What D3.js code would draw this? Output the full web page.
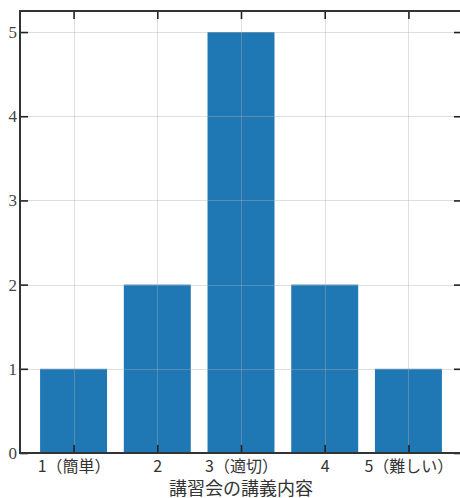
<!DOCTYPE html>
<html><head><meta charset="utf-8">
<script src="https://cdn.jsdelivr.net/npm/d3@7"></script>
<style>html,body{margin:0;padding:0;background:#fff;overflow:hidden}</style>
</head><body>
<svg id="c" width="460" height="498"></svg>
<script>
const categories = ["1（簡単）", "2", "3（適切）", "4", "5（難しい）"];
const counts = [1, 2, 5, 2, 1];
const yTicks = [0, 1, 2, 3, 4, 5];
const xLabel = "講習会の講義内容";

(function () {
const svg = d3.select("#c");
const mL = 20, mT = 11, mR = 462, mB = 453;
const idx = categories.map((d, i) => i);
const x = d3.scaleLinear().domain([-0.64, 4.64]).range([mL, mR]);
const y = d3.scaleLinear().domain([0, 5.25]).range([mB, mT]);
const bw = x(0.8) - x(0);

// bars
svg.append("g").selectAll("rect").data(counts).join("rect")
  .attr("x", (d, i) => x(i) - bw / 2)
  .attr("width", bw)
  .attr("y", d => y(d))
  .attr("height", d => y(0) - y(d))
  .attr("fill", "#1f77b4");

// grid
const grid = svg.append("g").attr("stroke", "#b0b0b0").attr("stroke-opacity", 0.4).attr("stroke-width", 1);
grid.selectAll(".gv").data(idx).join("line")
  .attr("x1", d => Math.round(x(d)) + 0.5).attr("x2", d => Math.round(x(d)) + 0.5)
  .attr("y1", mT).attr("y2", mB);
grid.selectAll(".gh").data(yTicks).join("line")
  .attr("x1", mL).attr("x2", mR)
  .attr("y1", d => Math.round(y(d)) + 0.5).attr("y2", d => Math.round(y(d)) + 0.5);

// axes with inward ticks
const axStyle = g => {
  g.select(".domain").remove();
  g.selectAll(".tick line").attr("stroke", "#222").attr("stroke-width", 1.6);
};
svg.append("g").attr("transform", `translate(0,${mB})`)
  .call(d3.axisBottom(x).tickValues(idx).tickSize(-8).tickPadding(8).tickFormat(i => categories[i]))
  .call(axStyle)
  .call(g => g.selectAll("text").attr("font-family", "'Noto Sans CJK JP'").attr("font-size", 16).attr("fill", "#333"));
svg.append("g").attr("transform", `translate(0,${mT})`)
  .call(d3.axisTop(x).tickValues(idx).tickSize(-8).tickFormat(""))
  .call(axStyle);
svg.append("g").attr("transform", `translate(${mL},0)`)
  .call(d3.axisLeft(y).tickValues(yTicks).tickSize(-8).tickPadding(3).tickFormat(d3.format("d")))
  .call(axStyle)
  .call(g => g.selectAll("text").attr("font-family", "'Liberation Serif', serif").attr("font-size", 17).attr("fill", "#444"));
svg.append("g").attr("transform", `translate(${mR},0)`)
  .call(d3.axisRight(y).tickValues(yTicks).tickSize(-8).tickFormat(""))
  .call(axStyle);

// frame
svg.append("rect").attr("x", mL).attr("y", mT).attr("width", mR - mL).attr("height", mB - mT)
  .attr("fill", "none").attr("stroke", "#333").attr("stroke-width", 2);

// x label
svg.append("text").attr("x", x(2)).attr("y", 495).attr("text-anchor", "middle")
  .attr("font-family", "'Noto Sans CJK JP'").attr("font-size", 18).attr("fill", "#333").text(xLabel);
})();
</script>
</body></html>
